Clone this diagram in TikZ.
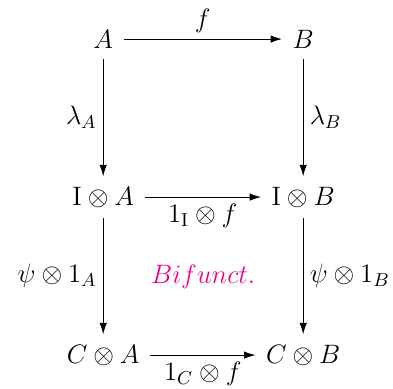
\documentclass[tikz,border=0pt]{standalone}
\usepackage{fix-cm}
\usepackage{amsmath}
\usetikzlibrary{arrows.meta}
\definecolor{bifpink}{RGB}{236,0,140}
\begin{document}
\begin{tikzpicture}[line width=0.4pt,>={Latex[length=5.5pt,width=3.6pt]},every node/.style={inner sep=5pt,font=\fontsize{13}{16}\selectfont}]
  \useasboundingbox (-1.77,0.67) rectangle (4.97,-6.0);
  \node (A) at (0,0) {$A$};
  \node (B) at (3.43,0) {$B$};
  \node (IA) at (0,-2.71) {$\mathrm{I}\otimes A$};
  \node (IB) at (3.43,-2.71) {$\mathrm{I}\otimes B$};
  \node (CA) at (0,-5.42) {$C\otimes A$};
  \node (CB) at (3.43,-5.42) {$C\otimes B$};
  \draw[->] (A) -- node[above,inner sep=3pt]{$f$} (B);
  \draw[->] (A) -- node[left,inner sep=3pt]{$\lambda_A$} (IA);
  \draw[->] (B) -- node[right,inner sep=3pt]{$\lambda_B$} (IB);
  \draw[->] (IA) -- node[below,inner sep=3pt]{$1_{\mathrm{I}}\otimes f$} (IB);
  \draw[->] (IA) -- node[left,inner sep=3pt]{$\psi\otimes 1_A$} (CA);
  \draw[->] (IB) -- node[right,inner sep=3pt]{$\psi\otimes 1_B$} (CB);
  \draw[->] (CA) -- node[below,inner sep=3pt]{$1_C\otimes f$} (CB);
  \node[text=bifpink] (bif) at (1.715,-4.07) {$Bifunct.$};
\end{tikzpicture}
\end{document}
